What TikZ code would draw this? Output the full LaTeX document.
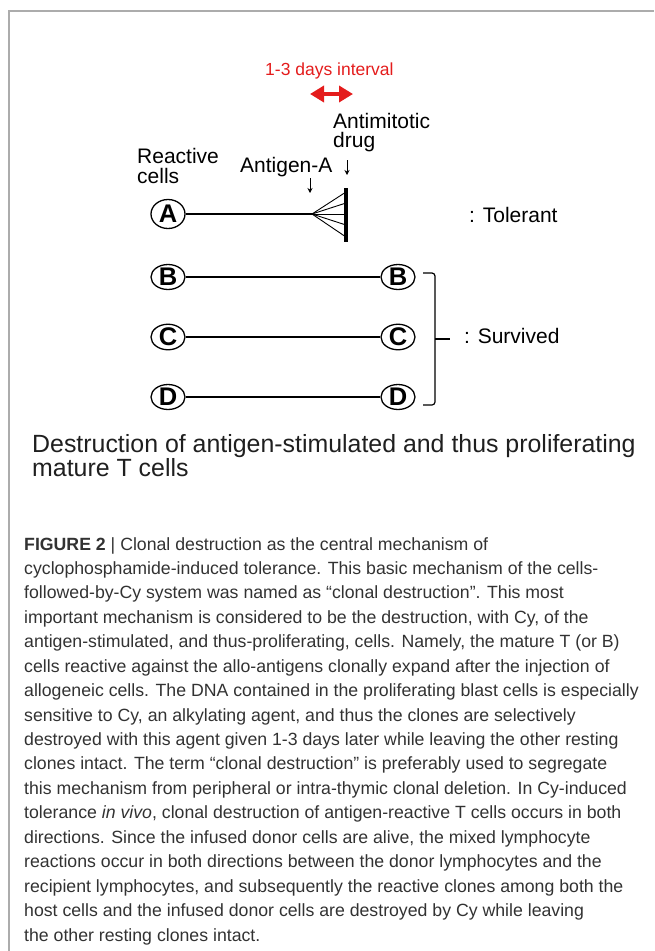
\documentclass[tikz,border=0pt]{standalone}
\usepackage{fontspec}
\setmainfont{Liberation Sans}
\usetikzlibrary{arrows.meta,shapes.geometric}
\definecolor{redarr}{RGB}{228,28,28}
\definecolor{framegray}{RGB}{172,172,172}
\definecolor{captext}{RGB}{50,50,50}
\begin{document}
\begin{tikzpicture}[x=1pt,y=-1pt,
  lab/.style={inner sep=0pt, anchor=base west, font=\fontsize{21}{21}\selectfont},
  cellbase/.style={draw, ellipse, line width=1.3pt, inner sep=0pt, minimum width=34pt,
    font=\fontsize{25.5}{25.5}\bfseries\selectfont},
  cellA/.style={cellbase, minimum height=29pt},
  cellB/.style={cellbase, minimum height=25pt},
  conn/.style={line width=1.1pt},
  capline/.style={inner sep=0pt, anchor=base west, text=captext, font=\fontsize{17.7}{17.7}\selectfont},
  ttl/.style={inner sep=0pt, anchor=base west, text=black!88, font=\fontsize{24.9}{24.9}\selectfont}
]
\useasboundingbox (0,0) rectangle (654,951);
% frame
\coordinate (fb) at (9,951);
\coordinate (fc) at (9,11);
\coordinate (fr) at (654,11);
\draw[framegray, line width=1.5pt] (fb) -- (fc) -- (fr);

% red interval
\node[lab, text=redarr, font=\fontsize{17.5}{17.5}\selectfont] (days) at (265,75) {1-3 days interval};
\coordinate (r1) at (310,94);
\coordinate (r2) at (353,94);
\draw[redarr, line width=4pt, {Triangle[length=14pt,width=16pt]}-{Triangle[length=14pt,width=16pt]}] (r1) -- (r2);

% labels
\node[lab] (anti1) at (333,128) {Antimitotic};
\node[lab] (anti2) at (333,147) {drug};
\node[lab] (react1) at (137,163) {Reactive};
\node[lab] (react2) at (137,183) {cells};
\node[lab] (antigen) at (240,172) {Antigen-A};

% small arrows
\coordinate (ag1) at (310,178);
\coordinate (ag2) at (310,193);
\coordinate (dr1) at (347,160);
\coordinate (dr2) at (347,175);
\draw[line width=0.9pt, -{Stealth[length=5pt,width=5pt]}] (ag1) -- (ag2);
\draw[line width=0.9pt, -{Stealth[length=5pt,width=5pt]}] (dr1) -- (dr2);

% row A
\node[cellA] (A) at (168,214) {A};
\coordinate (apex) at (312,214);
\coordinate (barT) at (346,188);
\coordinate (barB) at (346,242);
\coordinate (f1) at (346,192);
\coordinate (f2) at (346,203);
\coordinate (f3) at (346,214);
\coordinate (f4) at (346,225);
\coordinate (f5) at (346,237);
\draw[conn] (A) -- (apex);
\foreach \f in {f1,f2,f3,f4,f5} \draw[line width=0.9pt] (apex) -- (\f);
\draw[line width=3.2pt] (barT) -- (barB);
\node[lab] (tol) at (469,222) {: Tolerant};

% rows B, C, D
\node[cellB] (B1) at (168,277) {B};
\node[cellB] (B2) at (398,277) {B};
\node[cellB] (C1) at (168,337) {C};
\node[cellB] (C2) at (398,337) {C};
\node[cellB] (D1) at (168,397) {D};
\node[cellB] (D2) at (398,397) {D};
\draw[conn] (B1) -- (B2);
\draw[conn] (C1) -- (C2);
\draw[conn] (D1) -- (D2);

% bracket
\coordinate (k1) at (423,273);
\coordinate (k2) at (435,273);
\coordinate (k3) at (435,405);
\coordinate (k4) at (423,405);
\coordinate (km) at (435,339);
\coordinate (kt) at (450,339);
\draw[line width=1.2pt, rounded corners=3pt] (k1) -- (k2) -- (k3) -- (k4);
\draw[line width=1.2pt] (km) -- (kt);
\node[lab] (surv) at (464,343) {: Survived};

% title
\node[ttl] (t1) at (32,452) {Destruction of antigen-stimulated and thus proliferating};
\node[ttl] (t2) at (32,476) {mature T cells};

% caption
\foreach \t [count=\i] in {
 {\textbf{FIGURE 2} | Clonal destruction as the central mechanism of},
 {cyclophosphamide-induced tolerance. This basic mechanism of the cells-},
 {followed-by-Cy system was named as “clonal destruction”. This most},
 {important mechanism is considered to be the destruction, with Cy, of the},
 {antigen-stimulated, and thus-proliferating, cells. Namely, the mature T (or B)},
 {cells reactive against the allo-antigens clonally expand after the injection of},
 {allogeneic cells. The DNA contained in the proliferating blast cells is especially},
 {sensitive to Cy, an alkylating agent, and thus the clones are selectively},
 {destroyed with this agent given 1-3 days later while leaving the other resting},
 {clones intact. The term “clonal destruction” is preferably used to segregate},
 {this mechanism from peripheral or intra-thymic clonal deletion. In Cy-induced},
 {tolerance \textit{in vivo}, clonal destruction of antigen-reactive T cells occurs in both},
 {directions. Since the infused donor cells are alive, the mixed lymphocyte},
 {reactions occur in both directions between the donor lymphocytes and the},
 {recipient lymphocytes, and subsequently the reactive clones among both the},
 {host cells and the infused donor cells are destroyed by Cy while leaving},
 {the other resting clones intact.}}
 \node[capline] (c\i) at (24,{550+24.44*(\i-1)}) {\t};
\end{tikzpicture}
\end{document}
